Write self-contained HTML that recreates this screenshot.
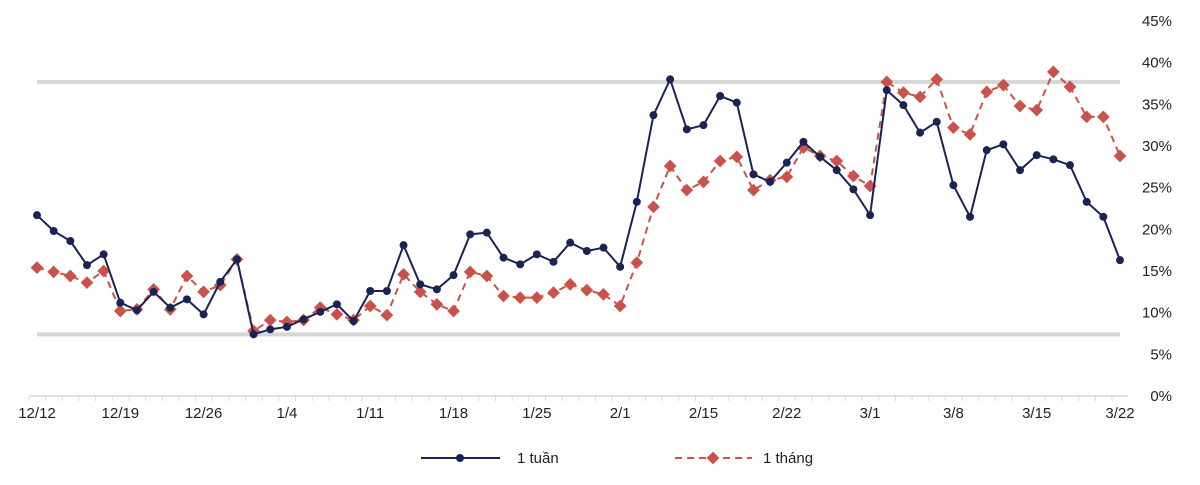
<!DOCTYPE html>
<html><head><meta charset="utf-8"><style>
body{margin:0;background:#fff;font-family:"Liberation Sans",sans-serif}
svg text{font-family:"Liberation Sans",sans-serif;font-size:15px;fill:#222}
</style></head><body>
<svg id="c" width="1200" height="480"></svg>
<script>
const labels=["12/12","12/19","12/26","1/4","1/11","1/18","1/25","2/1","2/15","2/22","3/1","3/8","3/15","3/22"];
const week=[21.7,19.8,18.6,15.7,17.0,11.2,10.3,12.5,10.6,11.6,9.8,13.7,16.4,7.4,8.0,8.3,9.2,10.1,11.0,9.0,12.6,12.6,18.1,13.4,12.8,14.5,19.4,19.6,16.6,15.8,17.0,16.1,18.4,17.4,17.8,15.5,23.3,33.7,38.0,32.0,32.5,36.0,35.2,26.6,25.7,28.0,30.5,28.7,27.1,24.8,21.7,36.7,34.9,31.6,32.9,25.3,21.5,29.5,30.2,27.1,28.9,28.4,27.7,23.3,21.5,16.3];
const month=[15.4,14.9,14.4,13.6,15.0,10.2,10.4,12.8,10.4,14.4,12.5,13.3,16.4,7.8,9.1,8.9,9.1,10.6,9.8,9.1,10.8,9.7,14.6,12.5,11.0,10.2,14.9,14.4,12.0,11.8,11.8,12.4,13.4,12.7,12.2,10.8,16.0,22.7,27.6,24.7,25.7,28.2,28.7,24.7,25.9,26.3,29.8,28.8,28.2,26.4,25.2,37.7,36.4,35.9,38.0,32.2,31.4,36.5,37.3,34.8,34.3,38.9,37.1,33.5,33.5,28.8];
const yTicks=[0,5,10,15,20,25,30,35,40,45];
const bandHi=37.7, bandLo=7.4;
const NS="http://www.w3.org/2000/svg",svg=document.getElementById('c');
const x=i=>37+i*(1120-37)/(week.length-1);
const y=v=>396-v*(375/45);
function mk(t,a,p){const e=document.createElementNS(NS,t);for(const k in a)e.setAttribute(k,a[k]);(p||svg).appendChild(e);return e;}
yTicks.forEach(t=>{const e=mk('text',{x:1172,y:y(t)+5,'text-anchor':'end'});e.textContent=t+'%';

});
[bandHi,bandLo].forEach(v=>{const e=mk('line',{x1:37,x2:1120,y1:y(v),y2:y(v),stroke:'#d6d6d6','stroke-width':4});

});
const ax=mk('line',{x1:30,x2:1128,y1:396,y2:396,stroke:'#d9d9d9','stroke-width':1.5});


for(let i=0;i<week.length;i++){mk('line',{x1:x(i)-8,x2:x(i)-8,y1:396,y2:401,stroke:'#d9d9d9'});}
labels.forEach((l,k)=>{const e=mk('text',{x:x(k*5),y:418,'text-anchor':'middle'});e.textContent=l;

});
const pm=mk('polyline',{points:month.map((v,i)=>x(i)+','+y(v)).join(' '),fill:'none',stroke:'#c9534a','stroke-width':2,'stroke-dasharray':'7,5'});


month.forEach((v,i)=>{const e=mk('rect',{x:x(i)-4.5,y:y(v)-4.5,width:9,height:9,fill:'#c9534a',transform:`rotate(45 ${x(i)} ${y(v)})`});

});
const pw=mk('polyline',{points:week.map((v,i)=>x(i)+','+y(v)).join(' '),fill:'none',stroke:'#1b2257','stroke-width':2});


week.forEach((v,i)=>{const e=mk('circle',{cx:x(i),cy:y(v),r:4,fill:'#1b2257'});

});
const g1=mk('g',{});
mk('line',{x1:421,x2:500,y1:458,y2:458,stroke:'#1b2257','stroke-width':2},g1);
mk('circle',{cx:460,cy:458,r:4,fill:'#1b2257'},g1);
mk('text',{x:517,y:463},g1).textContent='1 tuần';
const g2=mk('g',{});
mk('line',{x1:675,x2:752,y1:458,y2:458,stroke:'#c9534a','stroke-width':2,'stroke-dasharray':'7,5'},g2);
mk('rect',{x:708.5,y:453.5,width:9,height:9,fill:'#c9534a',transform:'rotate(45 713 458)'},g2);
mk('text',{x:763,y:463},g2).textContent='1 tháng';
</script>
</body></html>
